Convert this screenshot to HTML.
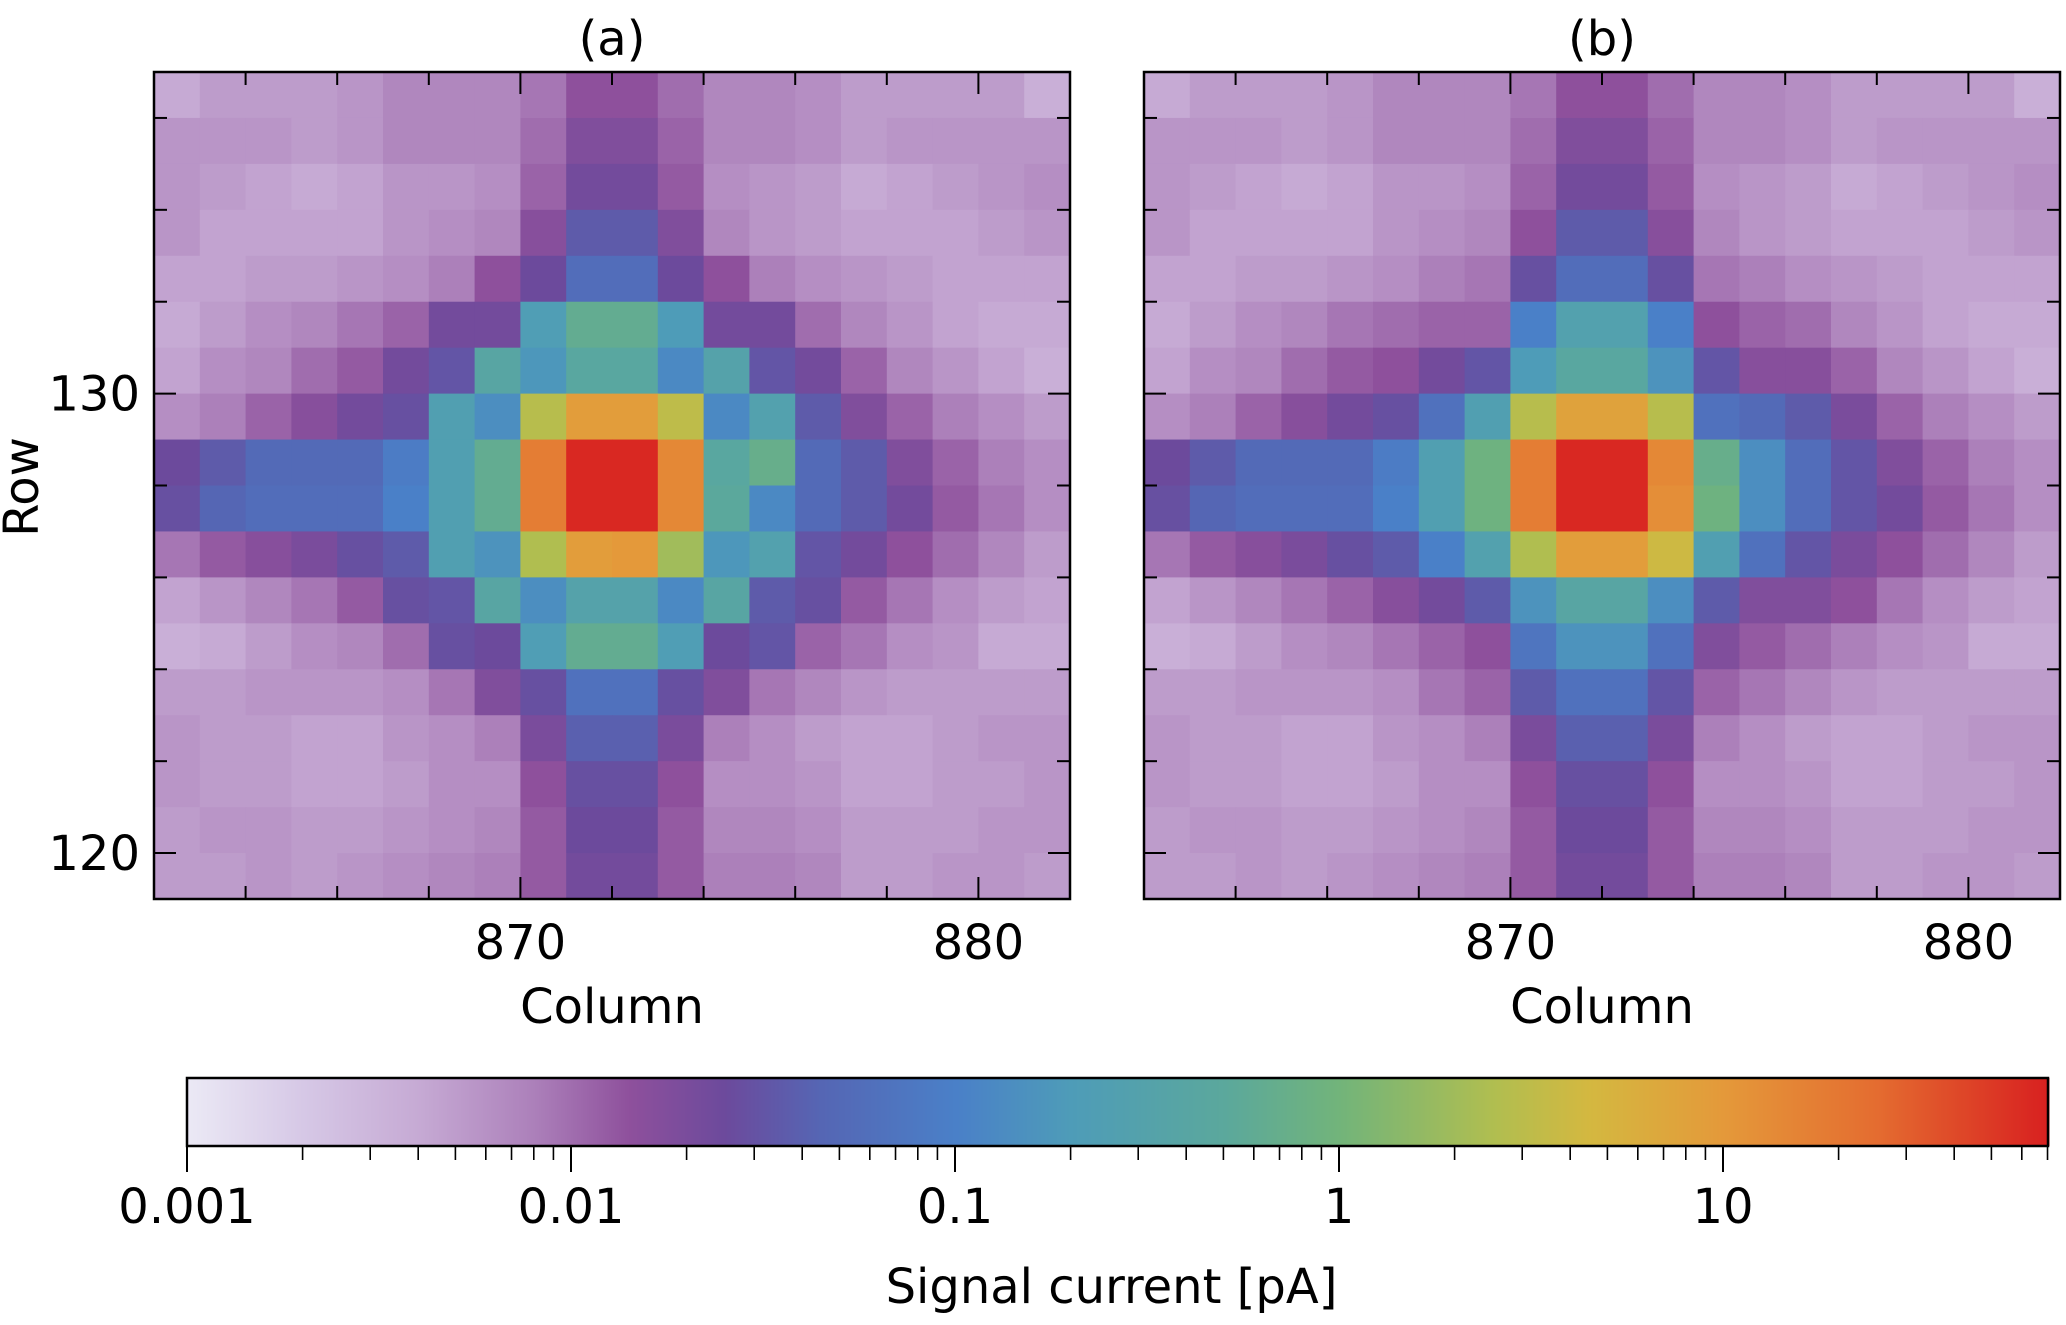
<!DOCTYPE html>
<html><head><meta charset="utf-8"><style>
html,body{margin:0;padding:0;background:#fff}
svg{display:block}
text{font-family:"DejaVu Sans","Liberation Sans",sans-serif;fill:#000}
</style></head><body>
<svg id="fig" width="2066" height="1325" viewBox="0 0 2066 1325" xmlns="http://www.w3.org/2000/svg"></svg>
<script>
// log10 of signal current (pA), rows top->bottom, 20 columns
const rowsA = [
[-2.4,-2.3,-2.3,-2.3,-2.25,-2.15,-2.15,-2.15,-2.05,-1.85,-1.85,-2.0,-2.15,-2.15,-2.2,-2.3,-2.3,-2.3,-2.3,-2.45],
[-2.25,-2.25,-2.25,-2.3,-2.25,-2.15,-2.15,-2.15,-2.0,-1.75,-1.75,-1.95,-2.15,-2.15,-2.2,-2.3,-2.25,-2.25,-2.25,-2.25],
[-2.25,-2.3,-2.35,-2.4,-2.35,-2.25,-2.25,-2.2,-1.95,-1.65,-1.65,-1.9,-2.2,-2.25,-2.3,-2.4,-2.35,-2.3,-2.25,-2.2],
[-2.25,-2.35,-2.35,-2.35,-2.35,-2.25,-2.2,-2.15,-1.8,-1.45,-1.45,-1.75,-2.15,-2.25,-2.3,-2.35,-2.35,-2.35,-2.3,-2.25],
[-2.35,-2.35,-2.3,-2.3,-2.25,-2.2,-2.1,-1.85,-1.6,-1.25,-1.25,-1.6,-1.85,-2.1,-2.2,-2.25,-2.3,-2.35,-2.35,-2.35],
[-2.4,-2.3,-2.2,-2.15,-2.05,-1.95,-1.65,-1.65,-0.65,-0.2,-0.2,-0.7,-1.65,-1.65,-2.0,-2.15,-2.25,-2.35,-2.4,-2.4],
[-2.35,-2.2,-2.15,-2.0,-1.9,-1.65,-1.5,-0.4,-0.75,-0.35,-0.35,-0.9,-0.5,-1.5,-1.65,-1.95,-2.15,-2.25,-2.35,-2.45],
[-2.2,-2.1,-1.95,-1.8,-1.65,-1.55,-0.6,-0.85,0.45,0.95,0.95,0.5,-0.9,-0.55,-1.45,-1.75,-1.95,-2.1,-2.2,-2.3],
[-1.6,-1.45,-1.3,-1.3,-1.3,-1.05,-0.6,-0.2,1.25,1.8,1.8,1.15,-0.35,-0.15,-1.3,-1.45,-1.75,-1.95,-2.1,-2.2],
[-1.55,-1.35,-1.25,-1.25,-1.25,-1.0,-0.6,-0.2,1.25,1.8,1.8,1.15,-0.3,-0.9,-1.3,-1.45,-1.65,-1.9,-2.05,-2.2],
[-2.05,-1.9,-1.8,-1.7,-1.55,-1.45,-0.6,-0.8,0.4,0.95,1.0,0.3,-0.75,-0.55,-1.5,-1.65,-1.85,-2.0,-2.15,-2.3],
[-2.35,-2.25,-2.15,-2.05,-1.9,-1.55,-1.5,-0.4,-0.85,-0.5,-0.5,-0.9,-0.4,-1.45,-1.55,-1.9,-2.05,-2.2,-2.3,-2.35],
[-2.45,-2.4,-2.3,-2.2,-2.15,-2.0,-1.55,-1.6,-0.65,-0.2,-0.2,-0.65,-1.6,-1.5,-1.95,-2.05,-2.2,-2.25,-2.4,-2.4],
[-2.3,-2.3,-2.25,-2.25,-2.25,-2.2,-2.05,-1.75,-1.55,-1.2,-1.2,-1.55,-1.75,-2.05,-2.15,-2.25,-2.3,-2.3,-2.3,-2.3],
[-2.25,-2.3,-2.3,-2.35,-2.35,-2.25,-2.2,-2.1,-1.7,-1.4,-1.4,-1.7,-2.1,-2.2,-2.3,-2.35,-2.35,-2.3,-2.25,-2.25],
[-2.25,-2.3,-2.3,-2.35,-2.35,-2.3,-2.2,-2.2,-1.85,-1.55,-1.55,-1.85,-2.2,-2.2,-2.25,-2.35,-2.35,-2.3,-2.3,-2.25],
[-2.3,-2.25,-2.25,-2.3,-2.3,-2.25,-2.2,-2.15,-1.9,-1.6,-1.6,-1.9,-2.15,-2.15,-2.2,-2.3,-2.3,-2.3,-2.25,-2.25],
[-2.3,-2.3,-2.25,-2.3,-2.25,-2.2,-2.15,-2.1,-1.9,-1.65,-1.65,-1.9,-2.1,-2.1,-2.15,-2.3,-2.3,-2.25,-2.25,-2.3]
];
const rowsB = [
[-2.4,-2.3,-2.3,-2.3,-2.25,-2.15,-2.15,-2.15,-2.05,-1.85,-1.85,-2.0,-2.15,-2.15,-2.2,-2.3,-2.3,-2.3,-2.3,-2.45],
[-2.25,-2.25,-2.25,-2.3,-2.25,-2.15,-2.15,-2.15,-2.0,-1.75,-1.75,-1.95,-2.15,-2.15,-2.2,-2.3,-2.25,-2.25,-2.25,-2.25],
[-2.25,-2.3,-2.35,-2.4,-2.35,-2.25,-2.25,-2.2,-1.95,-1.65,-1.65,-1.9,-2.2,-2.25,-2.3,-2.4,-2.35,-2.3,-2.25,-2.2],
[-2.25,-2.35,-2.35,-2.35,-2.35,-2.25,-2.2,-2.15,-1.85,-1.45,-1.45,-1.8,-2.15,-2.25,-2.3,-2.35,-2.35,-2.35,-2.3,-2.25],
[-2.35,-2.35,-2.3,-2.3,-2.25,-2.2,-2.1,-2.05,-1.55,-1.25,-1.25,-1.55,-2.05,-2.1,-2.2,-2.25,-2.3,-2.35,-2.35,-2.35],
[-2.4,-2.3,-2.2,-2.15,-2.05,-2.0,-1.95,-1.95,-1.0,-0.55,-0.55,-1.0,-1.85,-1.95,-2.0,-2.15,-2.25,-2.35,-2.4,-2.4],
[-2.35,-2.2,-2.15,-2.0,-1.9,-1.85,-1.65,-1.5,-0.7,-0.35,-0.35,-0.8,-1.5,-1.8,-1.8,-1.95,-2.15,-2.25,-2.35,-2.45],
[-2.2,-2.1,-1.95,-1.8,-1.65,-1.55,-1.2,-0.6,0.45,0.9,0.9,0.45,-1.2,-1.3,-1.45,-1.7,-1.95,-2.1,-2.2,-2.3],
[-1.6,-1.45,-1.3,-1.3,-1.3,-1.05,-0.6,-0.05,1.25,1.8,1.8,1.15,-0.15,-0.85,-1.25,-1.5,-1.75,-1.95,-2.1,-2.2],
[-1.55,-1.35,-1.25,-1.25,-1.25,-1.0,-0.6,-0.05,1.25,1.8,1.8,1.1,-0.05,-0.85,-1.25,-1.5,-1.65,-1.9,-2.05,-2.2],
[-2.05,-1.9,-1.8,-1.7,-1.55,-1.45,-1.0,-0.55,0.4,0.95,0.95,0.6,-0.6,-1.2,-1.5,-1.7,-1.85,-2.0,-2.15,-2.3],
[-2.35,-2.25,-2.15,-2.05,-1.95,-1.8,-1.65,-1.45,-0.8,-0.4,-0.4,-0.85,-1.45,-1.75,-1.75,-1.85,-2.05,-2.2,-2.3,-2.35],
[-2.45,-2.4,-2.3,-2.2,-2.15,-2.05,-1.95,-1.85,-1.15,-0.8,-0.8,-1.2,-1.75,-1.9,-2.0,-2.1,-2.2,-2.25,-2.4,-2.4],
[-2.3,-2.3,-2.25,-2.25,-2.25,-2.2,-2.05,-1.95,-1.45,-1.2,-1.2,-1.5,-1.95,-2.05,-2.15,-2.25,-2.3,-2.3,-2.3,-2.3],
[-2.25,-2.3,-2.3,-2.35,-2.35,-2.25,-2.2,-2.1,-1.7,-1.4,-1.4,-1.7,-2.1,-2.2,-2.3,-2.35,-2.35,-2.3,-2.25,-2.25],
[-2.25,-2.3,-2.3,-2.35,-2.35,-2.3,-2.2,-2.2,-1.85,-1.55,-1.55,-1.85,-2.2,-2.2,-2.25,-2.35,-2.35,-2.3,-2.3,-2.25],
[-2.3,-2.25,-2.25,-2.3,-2.3,-2.25,-2.2,-2.15,-1.9,-1.6,-1.6,-1.9,-2.15,-2.15,-2.2,-2.3,-2.3,-2.3,-2.25,-2.25],
[-2.3,-2.3,-2.25,-2.3,-2.25,-2.2,-2.15,-2.1,-1.9,-1.65,-1.65,-1.9,-2.1,-2.1,-2.15,-2.3,-2.3,-2.25,-2.25,-2.3]
];
const colTickLabels = ["870","880"];
const rowTickLabels = ["130","120"];
const cbarTickLabels = ["0.001","0.01","0.1","1","10"];
const panelTitles = ["(a)","(b)"];

const NS="http://www.w3.org/2000/svg";
const svg=document.getElementById('fig');
function mk(tag,attrs,parent){const e=document.createElementNS(NS,tag);for(const k in attrs)e.setAttribute(k,attrs[k]);(parent||svg).appendChild(e);return e;}

const stops=[[-3,[235,233,245]],[-2.7,[214,200,230]],[-2.4,[198,170,212]],[-2.1,[172,128,186]],[-1.85,[142,80,156]],[-1.6,[108,74,156]],[-1.35,[85,102,180]],[-1.0,[74,128,200]],[-0.7,[78,156,184]],[-0.3,[91,168,156]],[0,[114,180,122]],[0.4,[176,190,80]],[0.65,[212,184,64]],[1.0,[228,153,58]],[1.4,[228,108,48]],[1.845,[216,32,32]]];
function cmap(u){
  if(u<=stops[0][0])return 'rgb('+stops[0][1]+')';
  for(let i=1;i<stops.length;i++){if(u<=stops[i][0]){const a=stops[i-1],b=stops[i];const t=(u-a[0])/(b[0]-a[0]);return 'rgb('+a[1].map((v,j)=>Math.round(v+(b[1][j]-v)*t)).join(',')+')';}}
  return 'rgb('+stops[stops.length-1][1]+')';
}

const PW=916,PH=827,PY=72,NC=20,NR=18;
const cw=PW/NC,rh=PH/NR;
function drawPanel(px,data,title,key,showY){
  const g=mk('g',{});
  
  
  data.forEach((row,r)=>row.forEach((v,c)=>{
    const cell=mk('rect',{x:px+c*cw,y:PY+r*rh,width:cw+0.6,height:rh+0.6,fill:cmap(v)},g);
    
    
  }));
  for(let k=2;k<NC;k+=2){const x=px+k*cw;const L=(k===8||k===18)?22:13;
    mk('line',{x1:x,y1:PY,x2:x,y2:PY+L,stroke:'#000','stroke-width':2},g);
    mk('line',{x1:x,y1:PY+PH,x2:x,y2:PY+PH-L,stroke:'#000','stroke-width':2},g);}
  for(let k=1;k<NR;k+=2){const y=PY+k*rh;const L=(k===7||k===17)?22:13;
    mk('line',{x1:px,y1:y,x2:px+L,y2:y,stroke:'#000','stroke-width':2},g);
    mk('line',{x1:px+PW,y1:y,x2:px+PW-L,y2:y,stroke:'#000','stroke-width':2},g);}
  const fr=mk('rect',{x:px,y:PY,width:PW,height:PH,fill:'none',stroke:'#000','stroke-width':2.5},g);
  
  
  [8,18].forEach((k,i)=>{const t=mk('text',{x:px+k*cw,y:959,'font-size':48,'text-anchor':'middle'},g);t.textContent=colTickLabels[i];
    
    });
  const xl=mk('text',{x:px+PW/2,y:1023,'font-size':48,'text-anchor':'middle'},g);xl.textContent='Column';
  
  
  const tt=mk('text',{x:px+PW/2,y:55,'font-size':48,'text-anchor':'middle'},g);tt.textContent=title;
  
  
  if(showY){
    [7,17].forEach((k,i)=>{const t=mk('text',{x:px-14,y:PY+k*rh+17,'font-size':48,'text-anchor':'end'},g);t.textContent=rowTickLabels[i];
      
      });
    const yl=mk('text',{x:38,y:487,'font-size':48,'text-anchor':'middle',transform:'rotate(-90 38 487)'},g);yl.textContent='Row';
    
    
  }
}
drawPanel(154,rowsA,panelTitles[0],'a',true);
drawPanel(1144,rowsB,panelTitles[1],'b',false);

const CX=187,CX2=2048,CY=1078,CH=68,DEC=384;
const cb=mk('g',{});


function cx(u){return CX+(u+3)*DEC;}
for(let x=CX;x<CX2;x+=2){const u=(x-CX)/DEC-3;mk('rect',{x:x,y:CY,width:2.5,height:CH,fill:cmap(u)},cb);}
mk('rect',{x:CX,y:CY,width:CX2-CX,height:CH,fill:'none',stroke:'#000','stroke-width':2.5},cb);
for(let d=-3;d<=1;d++){
  const x=cx(d);
  mk('line',{x1:x,y1:CY+CH,x2:x,y2:CY+CH+26,stroke:'#000','stroke-width':2},cb);
  const t=mk('text',{x:x,y:1223,'font-size':48,'text-anchor':'middle'},cb);t.textContent=cbarTickLabels[d+3];
  
  
  for(let m=2;m<=9;m++){const xm=cx(d+Math.log10(m));if(xm<=CX2+1)mk('line',{x1:xm,y1:CY+CH,x2:xm,y2:CY+CH+14,stroke:'#000','stroke-width':1.6},cb);}
}
const cl=mk('text',{x:(CX+CX2)/2-6,y:1303,'font-size':48,'text-anchor':'middle'},cb);cl.textContent='Signal current [pA]';


</script>
</body></html>
